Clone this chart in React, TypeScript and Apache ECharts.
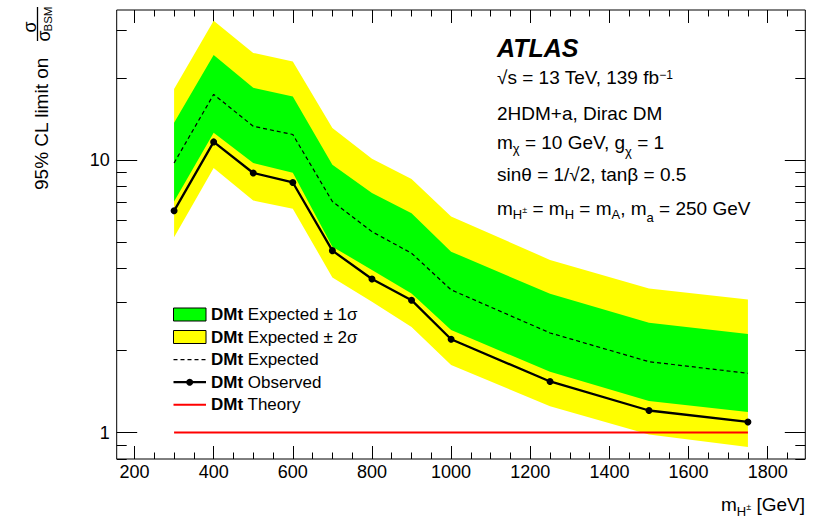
import React, { useEffect, useRef } from 'react';
import * as echarts from 'echarts';

// ---------------- data ----------------
const masses = [300, 400, 500, 600, 700, 800, 900, 1000, 1250, 1500, 1750];
const observed = [6.51, 11.65, 8.96, 8.27, 4.65, 3.66, 3.06, 2.2, 1.54, 1.205, 1.094];
const expected = [9.75, 17.4, 13.3, 12.4, 7.04, 5.46, 4.55, 3.34, 2.32, 1.82, 1.65];
const plus1 = [13.7, 24.3, 18.4, 17.1, 9.61, 7.56, 6.38, 4.61, 3.23, 2.53, 2.3];
const minus1 = [7.04, 12.6, 9.75, 8.98, 4.81, 3.95, 3.24, 2.38, 1.67, 1.307, 1.19];
const plus2 = [18.2, 32.4, 24.7, 23.0, 13.1, 10.1, 8.51, 6.2, 4.3, 3.38, 3.08];
const minus2 = [5.21, 9.35, 7.1, 6.62, 3.71, 3.02, 2.44, 1.77, 1.25, 0.983, 0.885];
const theory = [1, 1, 1, 1, 1, 1, 1, 1, 1, 1, 1];

const xMajorTicks = [200, 400, 600, 800, 1000, 1200, 1400, 1600, 1800];
const xMinorTicks = [
  200, 250, 300, 350, 400, 450, 500, 550, 600, 650, 700, 750, 800, 850, 900, 950,
  1000, 1050, 1100, 1150, 1200, 1250, 1300, 1350, 1400, 1450, 1500, 1550, 1600,
  1650, 1700, 1750, 1800, 1850,
];
const yMajorTicks = [1, 10];
const yMinorTicks = [0.8, 0.9, 2, 3, 4, 5, 6, 7, 8, 9, 20, 30];

const X_MIN = 155;
const X_MAX = 1895;
const Y_MIN = 0.8;
const Y_MAX = 35.5;

// ---------------- helpers ----------------
const L = (v: number) => Math.log10(v);
const FONT = '"Liberation Sans", Arial, Helvetica, sans-serif';
const pts = (vals: number[]) => masses.map((m, i) => [m, L(vals[i])]);

function bandSeries(lo: number[], hi: number[], color: string) {
  return {
    type: 'custom',
    coordinateSystem: 'cartesian2d',
    xAxisIndex: 0,
    yAxisIndex: 0,
    silent: true,
    data: masses.map((m, i) => [m, L(lo[i]), L(hi[i])]),
    encode: { x: 0, y: [1, 2] },
    renderItem: (params: any, api: any) => {
      if (params.dataIndex !== 0) return null;
      const upper = masses.map((m, i) => api.coord([m, L(hi[i])]));
      const lower = masses.map((m, i) => api.coord([m, L(lo[i])])).reverse();
      return {
        type: 'polygon',
        shape: { points: upper.concat(lower) },
        style: { fill: color, stroke: null },
      };
    },
  };
}

const tickLine = { color: '#000', width: 1 };
const xBase = {
  type: 'value',
  min: X_MIN,
  max: X_MAX,
  splitLine: { show: false },
  axisLine: { show: false, onZero: false },
};
const yBase = {
  type: 'value',
  min: L(Y_MIN),
  max: L(Y_MAX),
  splitLine: { show: false },
  axisLine: { show: false, onZero: false },
};
const yMajLog = yMajorTicks.map(L);
const yMinLog = yMinorTicks.map(L);

// rich text styles (main 19px)
const n19 = { fontSize: 19, lineHeight: 36, fontFamily: FONT, color: '#000' };
const sub13 = { fontSize: 13, lineHeight: 13, fontFamily: FONT, color: '#000', padding: [12, 0, 0, 0] };
const sub13low = { fontSize: 13, lineHeight: 13, fontFamily: FONT, color: '#000', padding: [18, 0, 0, 0] };
const sup12 = { fontSize: 12, lineHeight: 12, fontFamily: FONT, color: '#000', padding: [0, 0, 5.5, 0] };
const pm9 = { fontSize: 9, lineHeight: 9, fontFamily: FONT, color: '#000', padding: [4, 0, 0, 0] };
const richR = { n: n19, s: sub13, sl: sub13low, u: sup12, p: pm9 };

const infoLine = (text: string, baseline: number) => ({
  type: 'text',
  style: {
    x: 497,
    y: baseline - 24.6,
    text,
    rich: richR,
    align: 'left',
    verticalAlign: 'top',
  },
  silent: true,
});

const legRows = [314.3, 337, 359.6, 382.2, 404.8];
const legText = (label: string, y: number) => ({
  type: 'text',
  style: {
    x: 211,
    y,
    text: `{b|DMt}{n| ${label}}`,
    rich: {
      b: { fontSize: 17, fontWeight: 'bold', fontFamily: FONT, color: '#000' },
      n: { fontSize: 17, fontFamily: FONT, color: '#000' },
    },
    align: 'left',
    verticalAlign: 'middle',
  },
  silent: true,
});

const option: any = {
  animation: false,
  backgroundColor: '#fff',
  grid: {
    show: true,
    left: 116.7,
    right: 24.7,
    top: 10,
    bottom: 63,
    borderColor: '#000',
    borderWidth: 1,
    backgroundColor: 'transparent',
    containLabel: false,
    outerBoundsMode: 'none',
  },
  xAxis: [
    {
      ...xBase,
      position: 'bottom',
      axisTick: { show: true, inside: true, length: 13, customValues: xMajorTicks, lineStyle: tickLine },
      axisLabel: {
        show: true,
        customValues: xMajorTicks,
        fontSize: 18,
        color: '#000',
        fontFamily: FONT,
        margin: 4,
        formatter: (v: number) => String(Math.round(v)),
      },
    },
    {
      ...xBase,
      position: 'bottom',
      axisTick: { show: true, inside: true, length: 6.5, customValues: xMinorTicks, lineStyle: tickLine },
      axisLabel: { show: false },
    },
    {
      ...xBase,
      position: 'top',
      axisTick: { show: true, inside: true, length: 13, customValues: xMajorTicks, lineStyle: tickLine },
      axisLabel: { show: false },
    },
    {
      ...xBase,
      position: 'top',
      axisTick: { show: true, inside: true, length: 6.5, customValues: xMinorTicks, lineStyle: tickLine },
      axisLabel: { show: false },
    },
  ],
  yAxis: [
    {
      ...yBase,
      position: 'left',
      axisTick: { show: true, inside: true, length: 20.5, customValues: yMajLog, lineStyle: tickLine },
      axisLabel: {
        show: true,
        customValues: yMajLog,
        fontSize: 18,
        color: '#000',
        fontFamily: FONT,
        margin: 7,
        formatter: (v: number) => String(Math.round(Math.pow(10, v))),
      },
    },
    {
      ...yBase,
      position: 'left',
      axisTick: { show: true, inside: true, length: 10, customValues: yMinLog, lineStyle: tickLine },
      axisLabel: { show: false },
    },
    {
      ...yBase,
      position: 'right',
      axisTick: { show: true, inside: true, length: 20.5, customValues: yMajLog, lineStyle: tickLine },
      axisLabel: { show: false },
    },
    {
      ...yBase,
      position: 'right',
      axisTick: { show: true, inside: true, length: 10, customValues: yMinLog, lineStyle: tickLine },
      axisLabel: { show: false },
    },
  ],
  series: [
    bandSeries(minus2, plus2, '#ffff00'),
    bandSeries(minus1, plus1, '#00ff00'),
    {
      type: 'line',
      name: 'Expected',
      data: pts(expected),
      symbol: 'none',
      silent: true,
      lineStyle: { color: '#000', width: 1.2, type: [4, 3] },
    },
    {
      type: 'line',
      name: 'Theory',
      data: pts(theory),
      symbol: 'none',
      silent: true,
      lineStyle: { color: '#ff0000', width: 2 },
    },
    {
      type: 'line',
      name: 'Observed',
      data: pts(observed),
      symbol: 'circle',
      symbolSize: 7,
      silent: true,
      itemStyle: { color: '#000' },
      lineStyle: { color: '#000', width: 2.3 },
    },
  ],
  graphic: [
    // ATLAS label block
    {
      type: 'text',
      style: {
        x: 497,
        y: 47.5,
        text: 'ATLAS',
        fontSize: 25,
        fontWeight: 'bold',
        fontStyle: 'italic',
        fontFamily: FONT,
        fill: '#000',
        align: 'left',
        verticalAlign: 'middle',
      },
      silent: true,
    },
    infoLine('{n|√s = 13 TeV, 139 fb}{u|−1}', 84.3),
    infoLine('{n|2HDM+a, Dirac DM}', 120),
    infoLine('{n|m}{s|χ}{n| = 10 GeV, g}{sl|χ}{n| = 1}', 149.3),
    infoLine('{n|sinθ = 1/√2, tanβ = 0.5}', 181),
    infoLine('{n|m}{s|H}{p|±}{n| = m}{s|H}{n| = m}{s|A}{n|, m}{sl|a}{n| = 250 GeV}', 215),
    // x axis title
    {
      type: 'text',
      style: {
        x: 805,
        y: 511 - 24.6,
        text: '{n|m}{s|H}{p|±}{n| [GeV]}',
        rich: {
          n: { fontSize: 19, lineHeight: 36, fontFamily: FONT, color: '#000' },
          s: { fontSize: 13, lineHeight: 13, fontFamily: FONT, color: '#000', padding: [14, 0, 0, 0] },
          p: { fontSize: 9, lineHeight: 9, fontFamily: FONT, color: '#000', padding: [5, 0, 0, 0] },
        },
        align: 'right',
        verticalAlign: 'top',
      },
      silent: true,
    },
    // y axis title (rotated group)
    {
      type: 'group',
      x: 48,
      y: 190,
      rotation: Math.PI / 2,
      silent: true,
      children: [
        {
          type: 'text',
          style: {
            x: 0,
            y: -6.6,
            text: '95% CL limit on',
            fontSize: 19,
            fontFamily: FONT,
            fill: '#000',
            align: 'left',
            verticalAlign: 'middle',
          },
        },
        {
          type: 'line',
          shape: { x1: 149, y1: -10.5, x2: 183, y2: -10.5 },
          style: { stroke: '#000', lineWidth: 1.3 },
        },
        {
          type: 'text',
          style: {
            x: 163,
            y: -18.5,
            text: 'σ',
            fontSize: 18,
            fontFamily: FONT,
            fill: '#000',
            align: 'center',
            verticalAlign: 'middle',
          },
        },
        {
          type: 'text',
          style: {
            x: 154,
            y: -4,
            text: 'σ',
            fontSize: 18,
            fontFamily: FONT,
            fill: '#000',
            align: 'center',
            verticalAlign: 'middle',
          },
        },
        {
          type: 'text',
          style: {
            x: 171,
            y: -0.5,
            text: 'BSM',
            fontSize: 11.5,
            fontFamily: FONT,
            fill: '#000',
            align: 'center',
            verticalAlign: 'middle',
          },
        },
      ],
    },
    // legend swatches
    {
      type: 'rect',
      shape: { x: 173.5, y: 308, width: 32.5, height: 13 },
      style: { fill: '#00ff00', stroke: '#000', lineWidth: 1 },
      silent: true,
    },
    {
      type: 'rect',
      shape: { x: 173.5, y: 330.5, width: 32.5, height: 13 },
      style: { fill: '#ffff00', stroke: '#000', lineWidth: 1 },
      silent: true,
    },
    {
      type: 'line',
      shape: { x1: 173.5, y1: legRows[2], x2: 206, y2: legRows[2] },
      style: { stroke: '#000', lineWidth: 1.2, lineDash: [4, 3] },
      silent: true,
    },
    {
      type: 'line',
      shape: { x1: 173.5, y1: legRows[3], x2: 206, y2: legRows[3] },
      style: { stroke: '#000', lineWidth: 2.3 },
      silent: true,
    },
    {
      type: 'circle',
      shape: { cx: 189.7, cy: legRows[3], r: 3.5 },
      style: { fill: '#000' },
      silent: true,
    },
    {
      type: 'line',
      shape: { x1: 173.5, y1: legRows[4], x2: 206, y2: legRows[4] },
      style: { stroke: '#ff0000', lineWidth: 2 },
      silent: true,
    },
    legText('Expected ± 1σ', legRows[0]),
    legText('Expected ± 2σ', legRows[1]),
    legText('Expected', legRows[2]),
    legText('Observed', legRows[3]),
    legText('Theory', legRows[4]),
  ],
};

export default function App() {
  const ref = useRef<HTMLDivElement>(null);
  useEffect(() => {
    if (!ref.current) return;
    const chart = echarts.init(ref.current, null, { renderer: 'svg' });
    chart.setOption(option);
    return () => {
      chart.dispose();
    };
  }, []);
  return (
    <div
      ref={ref}
      style={{ position: 'absolute', left: 0, top: 0, width: 830, height: 522, background: '#fff' }}
    />
  );
}
